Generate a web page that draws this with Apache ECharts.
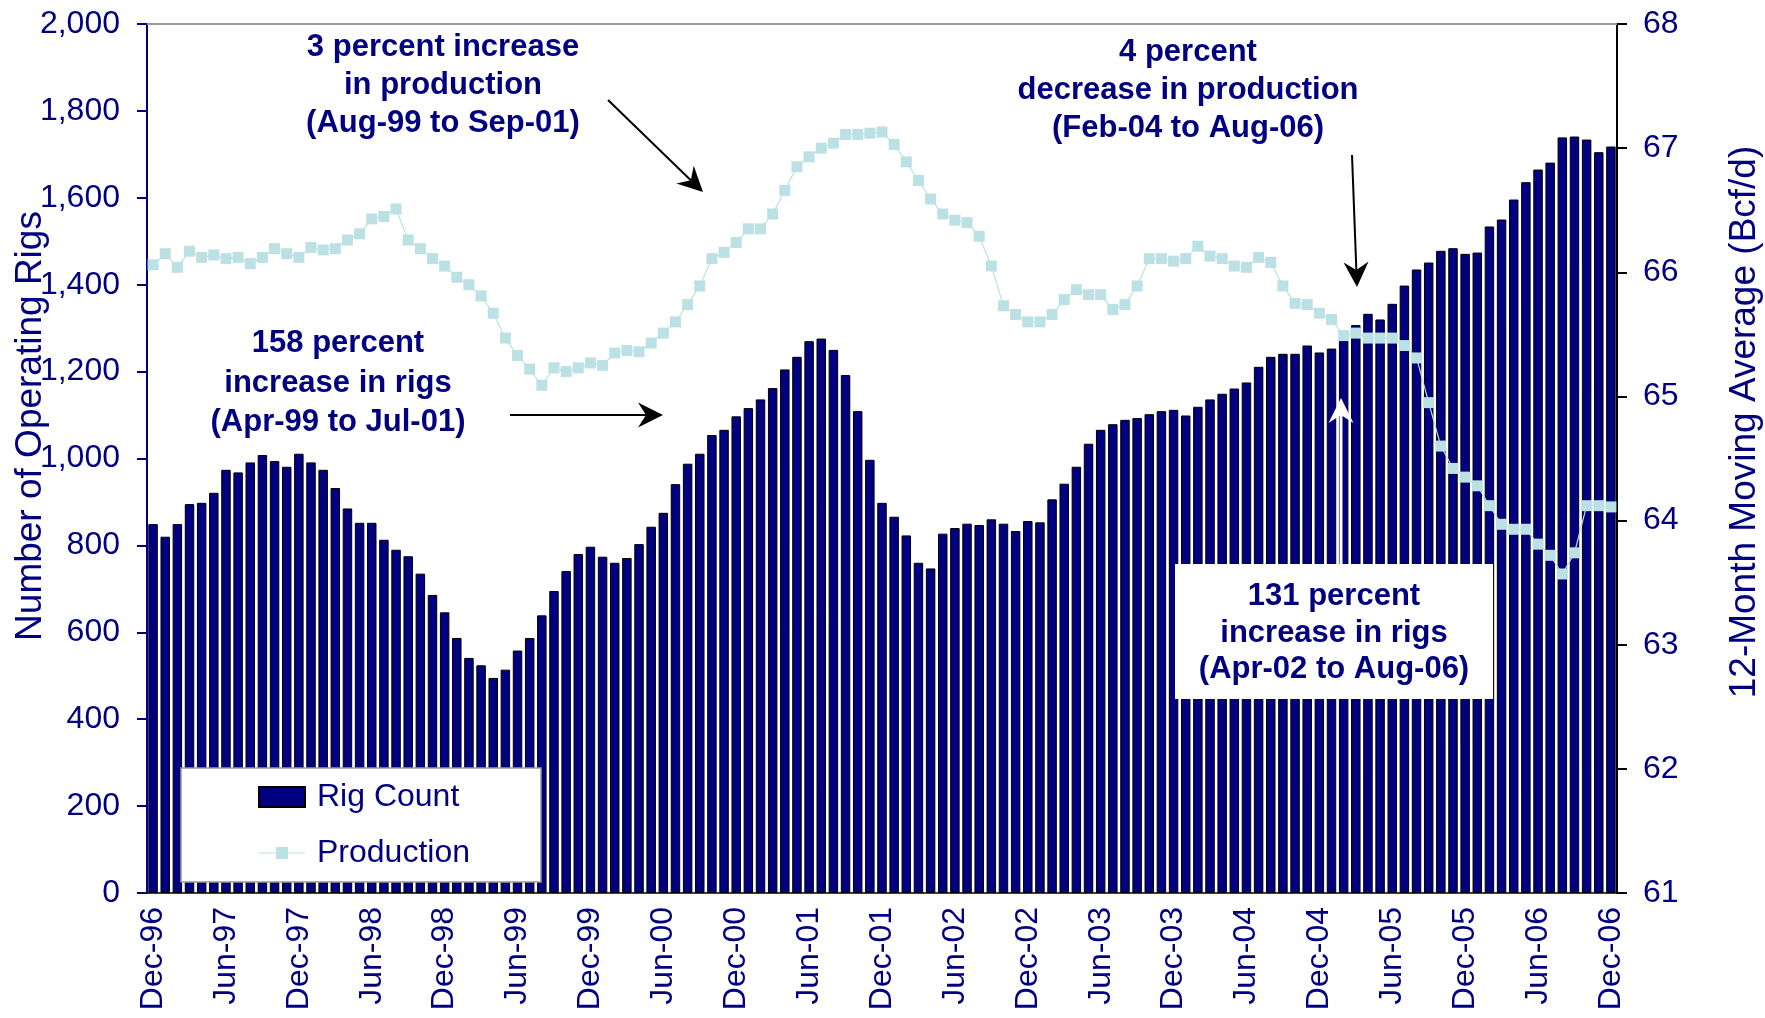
<!DOCTYPE html>
<html>
<head>
<meta charset="utf-8">
<title>Rig Count and Production</title>
<script src="https://cdn.jsdelivr.net/npm/echarts@6/dist/echarts.min.js"></script>
<style>
  html, body { margin: 0; padding: 0; background: #fff; }
  #chart { width: 1765px; height: 1018px; }
</style>
</head>
<body>
<div id="chart"></div>
<script>
  // month labels, Dec-96 .. Dec-06
  var monthNames = ['Jan', 'Feb', 'Mar', 'Apr', 'May', 'Jun', 'Jul', 'Aug', 'Sep', 'Oct', 'Nov', 'Dec'];
  var months = ['Dec-96'];
  for (var yr = 97; yr <= 106; yr++) {
    for (var m = 0; m < 12; m++) {
      months.push(monthNames[m] + '-' + String(yr % 100).padStart(2, '0'));
    }
  }

  // operating rigs, one per month
  var rigCount = [
    849, 820, 849, 895, 898, 921, 974, 968, 991, 1008, 994, 981,
    1011, 991, 974, 932, 885, 852, 852, 813, 790, 775, 735, 686,
    646, 587, 541, 524, 495, 514, 558, 587, 639, 695, 741, 780,
    797, 774, 760, 771, 803, 843, 875, 941, 988, 1011, 1054, 1066,
    1097, 1116, 1136, 1162, 1205, 1234, 1270, 1276, 1250, 1192, 1109, 997,
    898, 866, 823, 760, 747, 827, 840, 850, 847, 860, 850, 833,
    856, 853, 906, 942, 981, 1034, 1066, 1079, 1089, 1093, 1102, 1109,
    1112, 1099, 1119, 1136, 1149, 1161, 1175, 1211, 1234, 1241, 1241, 1260,
    1244, 1253, 1273, 1307, 1333, 1320, 1356, 1398, 1435, 1451, 1478, 1484,
    1471, 1474, 1534, 1550, 1596, 1636, 1665, 1681, 1739, 1741, 1734, 1705, 1718
  ];

  // 12-month moving average production, Bcf/d
  var production = [
    66.06, 66.15, 66.04, 66.17, 66.12, 66.14, 66.11, 66.12, 66.07, 66.12, 66.19, 66.15,
    66.12, 66.20, 66.18, 66.19, 66.26, 66.31, 66.43, 66.45, 66.51, 66.26, 66.19, 66.11,
    66.05, 65.96, 65.90, 65.81, 65.67, 65.47, 65.33, 65.22, 65.09, 65.23, 65.20, 65.23,
    65.27, 65.25, 65.35, 65.37, 65.36, 65.43, 65.51, 65.60, 65.74, 65.89, 66.11, 66.16,
    66.24, 66.35, 66.35, 66.47, 66.66, 66.85, 66.93, 67.00, 67.04, 67.11, 67.11, 67.12,
    67.13, 67.03, 66.89, 66.74, 66.59, 66.47, 66.42, 66.40, 66.29, 66.05, 65.73, 65.66,
    65.60, 65.60, 65.66, 65.78, 65.86, 65.82, 65.82, 65.70, 65.74, 65.89, 66.11, 66.11,
    66.09, 66.11, 66.21, 66.13, 66.11, 66.05, 66.04, 66.12, 66.08, 65.89, 65.75, 65.74,
    65.67, 65.62, 65.49, 65.51, 65.47, 65.47, 65.47, 65.41, 65.31, 64.95, 64.60, 64.42,
    64.35, 64.28, 64.12, 63.97, 63.93, 63.93, 63.81, 63.72, 63.57, 63.74, 64.12, 64.12, 64.11
  ];

  var navy = '#000080';
  var cyan = '#BCE1E4';
  var font = '"Liberation Sans", Arial, sans-serif';
  var boldFont = 'bold 31px ' + font;

  // arrow = line + notched head
  function arrow(x1, y1, x2, y2, color, w) {
    var a = Math.atan2(y2 - y1, x2 - x1), L = 25, H = 12.5, N = 8;
    var c = Math.cos(a), s = Math.sin(a);
    function pt(d, o) { return [x2 - d * c - o * s, y2 - d * s + o * c]; }
    var back = pt(L - N, 0);
    return [
      {type: 'line', z: 100, shape: {x1: x1, y1: y1, x2: back[0], y2: back[1]}, style: {stroke: color, lineWidth: w}},
      {type: 'polygon', z: 100, shape: {points: [[x2, y2], pt(L, H), back, pt(L, -H)]}, style: {fill: color}}
    ];
  }

  function note(text, x, y, lh, extra) {
    var st = {text: text, x: x, y: y, align: 'center', verticalAlign: 'middle', font: boldFont, lineHeight: lh, fill: navy};
    for (var k in extra) st[k] = extra[k];
    return {type: 'text', z: 101, style: st};
  }

  // vertical axis title, reads bottom to top
  function axisTitle(text, x, y, size) {
    return {type: 'text', z: 101, x: x, y: y, rotation: Math.PI / 2,
      style: {text: text, align: 'center', verticalAlign: 'middle', font: size + 'px ' + font, fill: navy}};
  }

  var graphics = [
    // top border of plot area
    {type: 'line', z: 1, shape: {x1: 147, y1: 24, x2: 1617, y2: 24}, style: {stroke: '#999', lineWidth: 2}},
    axisTitle('Number of Operating Rigs', 31, 426, 37),
    axisTitle('12-Month Moving Average (Bcf/d)', 1745, 422, 37),
    note('3 percent increase\nin production\n(Aug-99 to Sep-01)', 443, 85, 38),
    note('158 percent\nincrease in rigs\n(Apr-99 to Jul-01)', 338, 383, 39.5),
    note('4 percent\ndecrease in production\n(Feb-04 to Aug-06)', 1188, 90, 38, {backgroundColor: '#fff', padding: [8, 22]}),
    {type: 'rect', z: 100, shape: {x: 1175, y: 564, width: 318, height: 135}, style: {fill: '#fff'}},
    note('131 percent\nincrease in rigs\n(Apr-02 to Aug-06)', 1334, 633, 36.5)
  ]
    .concat(arrow(608, 100, 703, 192, '#000', 2))
    .concat(arrow(510, 415, 663, 415, '#000', 2))
    .concat(arrow(1352, 155, 1357, 287, '#000', 2))
    .concat(arrow(1341, 564, 1341, 398, '#fff', 3));

  var option = {
    animation: false,
    textStyle: {fontFamily: font},
    grid: {left: 147, right: 148, top: 24, bottom: 125, containLabel: false, outerBoundsMode: 'none'},
    legend: {
      orient: 'vertical',
      left: 181,
      top: 768,
      padding: [11, 71, 11, 77],
      itemGap: 20,
      itemWidth: 46,
      itemHeight: 20,
      backgroundColor: '#fff',
      borderColor: '#999',
      borderWidth: 1.5,
      textStyle: {fontSize: 32, color: navy, lineHeight: 36, padding: [0, 0, 0, 7]},
      data: [
        {name: 'Rig Count', icon: 'rect'},
        {name: 'Production', icon: 'path://M0,9.5L46,9.5L46,10.5L0,10.5Z M17,4L29,4L29,16L17,16Z'}
      ],
      z: 10
    },
    xAxis: {
      type: 'category',
      data: months,
      axisLine: {lineStyle: {color: '#000', width: 1.5}},
      axisTick: {interval: 0, length: 7, lineStyle: {color: '#000'}},
      axisLabel: {interval: 5, rotate: 90, fontSize: 32, color: navy, margin: 14}
    },
    yAxis: [
      {
        type: 'value', min: 0, max: 2000, interval: 200, position: 'left',
        axisLine: {show: true, lineStyle: {color: navy, width: 2}},
        axisTick: {show: true, length: 10, lineStyle: {color: navy, width: 2}},
        axisLabel: {fontSize: 32, color: navy, margin: 27, formatter: function (v) { return v.toLocaleString('en-US'); }},
        splitLine: {show: false}
      },
      {
        type: 'value', min: 61, max: 68, interval: 1, position: 'right',
        axisLine: {show: true, lineStyle: {color: '#000', width: 2}},
        axisTick: {show: true, length: 10, lineStyle: {color: '#000', width: 2}},
        axisLabel: {fontSize: 32, color: navy, margin: 26},
        splitLine: {show: false}
      }
    ],
    series: [
      {
        name: 'Rig Count', type: 'bar', data: rigCount, barCategoryGap: '22%',
        itemStyle: {color: navy, borderColor: '#000', borderWidth: 1}
      },
      {
        name: 'Production', type: 'line', yAxisIndex: 1, data: production,
        symbol: 'rect', symbolSize: 11, showAllSymbol: true,
        itemStyle: {color: cyan}, lineStyle: {color: cyan, width: 1.2}
      }
    ],
    graphic: graphics
  };

  var chart = echarts.init(document.getElementById('chart'));
  chart.setOption(option);
</script>
</body>
</html>
